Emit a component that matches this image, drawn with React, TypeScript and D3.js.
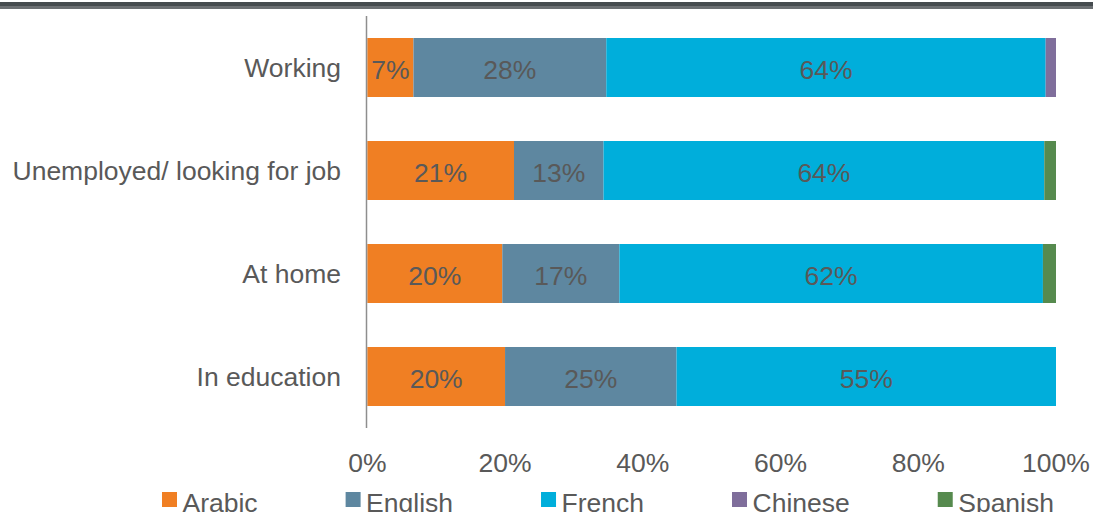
import React from "react";
import * as d3 from "d3";

const categories = ["Working", "Unemployed/ looking for job", "At home", "In education"];
const seriesNames = ["Arabic", "English", "French", "Chinese", "Spanish"];
const arabic = [6.7, 21.3, 19.6, 20.0];
const english = [28.0, 13.0, 17.0, 24.9];
const french = [63.8, 64.0, 61.5, 55.1];
const chinese = [1.5, 0, 0, 0];
const spanish = [0, 1.7, 1.9, 0];
const colors = ["#F07F23", "#5E87A0", "#00AEDB", "#7F6E9B", "#568A4E"];
const ticks = [0, 0.2, 0.4, 0.6, 0.8, 1.0];

const W = 1093;
const H = 512;
const FONT = "'Liberation Sans', Arial, sans-serif";
const FS = 26.5;
const TEXT = "#595959";

function measure(t: string): number {
  const c = document.createElement("canvas").getContext("2d");
  if (!c) return t.length * 14;
  c.font = `${FS}px ${FONT}`;
  return c.measureText(t).width;
}

export default function App() {
  const series = [arabic, english, french, chinese, spanish];
  const rows = categories.map((c, i) => {
    const obj: any = { category: c };
    seriesNames.forEach((s, j) => (obj[s] = series[j][i] / 100));
    return obj;
  });
  const stacked = d3.stack<any>().keys(seriesNames)(rows);

  const x = d3.scaleLinear().domain([0, 1]).range([367.3, 1056]);
  const y = d3
    .scaleBand<string>()
    .domain(categories)
    .range([16, 428])
    .paddingInner(44 / 103)
    .paddingOuter(22 / 103);

  const pct = d3.format(".0%");

  // legend layout
  let lx = 162;
  const legend = seriesNames.map((s, i) => {
    const item = { name: s, x: lx, color: colors[i] };
    lx += 20.5 + measure(s) + 88;
    return item;
  });

  return (
    <svg
      width={W}
      height={H}
      style={{ position: "absolute", left: 0, top: 0, background: "#fff" }}
      fontFamily={FONT}
    >
      <rect x={0} y={2} width={W} height={4} fill="#464C4F" />
      <rect x={0} y={6} width={W} height={3} fill="#6C7073" />

      {stacked.map((layer, si) =>
        layer.map((d, ci) => {
          const v = d[1] - d[0];
          if (v <= 0) return null;
          const cat = categories[ci];
          const x0 = x(d[0]);
          const x1 = x(d[1]);
          const yy = y(cat)!;
          return (
            <g key={`${si}-${ci}`}>
              <rect x={x0} y={yy} width={x1 - x0} height={y.bandwidth()} fill={colors[si]} />
              {v >= 0.05 && (
                <text
                  x={(x0 + x1) / 2}
                  y={yy + y.bandwidth() / 2 + 11.5}
                  textAnchor="middle"
                  fontSize={FS}
                  fill={TEXT}
                >
                  {pct(Math.round(v * 100) / 100)}
                </text>
              )}
            </g>
          );
        })
      )}

      <line x1={366.5} x2={366.5} y1={16} y2={428} stroke="#8E8E8E" strokeWidth={1.5} />

      {categories.map((c) => (
        <text
          key={c}
          x={341}
          y={y(c)! + y.bandwidth() / 2 + 9.8}
          textAnchor="end"
          fontSize={FS}
          fill={TEXT}
        >
          {c}
        </text>
      ))}

      {ticks.map((t) => (
        <text key={t} x={x(t)} y={471.7} textAnchor="middle" fontSize={FS} fill={TEXT}>
          {pct(t)}
        </text>
      ))}

      {legend.map((l) => (
        <g key={l.name}>
          <rect x={l.x} y={492} width={15} height={15} fill={l.color} />
          <text x={l.x + 20.5} y={511.5} fontSize={FS} fill={TEXT}>
            {l.name}
          </text>
        </g>
      ))}
    </svg>
  );
}
